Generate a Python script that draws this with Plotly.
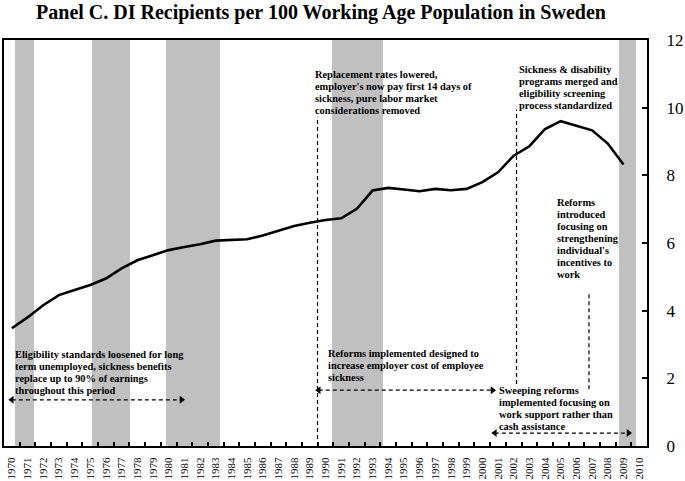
import plotly.graph_objects as go

# ---------------- data ----------------
years = list(range(1970, 2010))
di_rate = [3.48, 3.80, 4.16, 4.46, 4.61, 4.76, 4.95, 5.25, 5.49, 5.63,
           5.79, 5.88, 5.96, 6.07, 6.09, 6.11, 6.22, 6.35, 6.50, 6.60,
           6.68, 6.73, 7.01, 7.55, 7.63, 7.58, 7.53, 7.60, 7.56, 7.60,
           7.80, 8.09, 8.58, 8.86, 9.37, 9.60, 9.47, 9.33, 8.94, 8.32]

tick_years = list(range(1970, 2011))
tick_labels = [str(y) for y in tick_years]
y_ticks = [0, 2, 4, 6, 8, 10, 12]

rec_start = [1970.17, 1975.09, 1979.81, 1990.43, 2008.73]
rec_end = [1971.41, 1977.56, 1983.27, 1993.66, 2009.78]

event_x = [1989.49, 2002.18, 2006.80]
event_top = [9.73, 9.94, 4.54]
event_bottom = [0.0, 1.83, 1.68]

arrow_start = [1970.00, 1989.57, 2000.80]
arrow_end = [1980.82, 2000.65, 2009.32]
arrow_y = [1.365, 1.65, 0.383]

note_lines = [
    ["Eligibility standards loosened for long",
     "term unemployed, sickness benefits",
     "replace up to 90% of earnings",
     "throughout this period"],
    ["Replacement rates lowered,",
     "employer's now pay first 14 days of",
     "sickness, pure labor market",
     "considerations removed"],
    ["Sickness & disability",
     "programs merged and",
     "eligibility screening",
     "process standardized"],
    ["Reforms",
     "introduced",
     "focusing on",
     "strengthening",
     "individual's",
     "incentives to",
     "work"],
    ["Reforms implemented designed to",
     "increase employer cost of employee",
     "sickness"],
    ["Sweeping reforms",
     "implemented focusing on",
     "work support rather than",
     "cash assistance"],
]
note_x = [1970.08, 1989.20, 2002.24, 2004.63, 1990.06, 2000.92]
note_y = [2.71, 10.99, 11.14, 7.21, 2.73, 1.65]

title = "Panel C. DI Recipients per 100 Working Age Population in Sweden"

# ---------------- figure ----------------
SERIF = "Liberation Serif, Times New Roman, serif"
fig = go.Figure()

# recession bands
fig.add_trace(go.Bar(
    x=[(s + e) / 2 for s, e in zip(rec_start, rec_end)],
    y=[12] * len(rec_start),
    width=[e - s for s, e in zip(rec_start, rec_end)],
    marker=dict(color="#c0c0c0", line=dict(width=0)),
    showlegend=False, hoverinfo="skip",
))

# event vertical dashed lines
for xv, yt, yb in zip(event_x, event_top, event_bottom):
    fig.add_trace(go.Scatter(
        x=[xv, xv], y=[yb, yt], mode="lines", xaxis="x2",
        line=dict(color="black", width=1.2, dash="4px,3px"),
        showlegend=False, hoverinfo="skip",
    ))

# double-headed dashed arrows
for xs, xe, yv in zip(arrow_start, arrow_end, arrow_y):
    fig.add_trace(go.Scatter(
        x=[xs, xe], y=[yv, yv], mode="lines+markers", xaxis="x2",
        line=dict(color="black", width=1.3, dash="4px,3px"),
        marker=dict(symbol=["triangle-left", "triangle-right"], size=7,
                    color="black"),
        showlegend=False, hoverinfo="skip",
    ))

# main series
fig.add_trace(go.Scatter(
    x=years, y=di_rate, mode="lines", xaxis="x2",
    line=dict(color="black", width=2.6),
    showlegend=False, hoverinfo="skip",
))

annotations = []
for lines, xv, yv in zip(note_lines, note_x, note_y):
    for k, txt in enumerate(lines):
        annotations.append(dict(
            x=xv, y=yv, xref="x", yref="y", text="<b>" + txt + "</b>",
            showarrow=False, xanchor="left", yanchor="middle",
            yshift=-12.1 * k,
            font=dict(family=SERIF, size=10.4, color="black"),
        ))

rng = [1969.5, 2010.5]
fig.update_layout(
    width=685, height=481,
    margin=dict(l=2, r=32, t=40, b=34),
    paper_bgcolor="white", plot_bgcolor="white",
    bargap=0,
    title=dict(text="<b>" + title + "</b>", x=0.4686, xref="container",
               xanchor="center", y=1 - 12 / 481, yref="container",
               yanchor="middle",
               font=dict(family=SERIF, size=20, color="black")),
    xaxis=dict(range=rng, tickmode="array", tickvals=tick_years,
               ticktext=tick_labels, tickangle=-90, ticks="",
               ticklabelstandoff=5,
               tickfont=dict(family=SERIF, size=11, color="black"),
               showgrid=False, zeroline=False, showline=True,
               linecolor="black", linewidth=2, mirror=True),
    xaxis2=dict(range=rng, overlaying="x", anchor="y", side="bottom",
                tickmode="array",
                tickvals=[y + 0.5 for y in tick_years[:-1]],
                ticks="inside", ticklen=4, tickwidth=1.5, tickcolor="black",
                showticklabels=False, showgrid=False, zeroline=False,
                showline=False),
    yaxis=dict(range=[0, 12], side="right", tickmode="array",
               tickvals=y_ticks, ticks="inside", ticklen=5, tickwidth=2,
               tickcolor="black", ticklabelstandoff=14,
               tickfont=dict(family=SERIF, size=17, color="black"),
               showgrid=False, zeroline=False, showline=True,
               linecolor="black", linewidth=2, mirror=True),
    annotations=annotations,
)

fig.write_html("out.html",
               config={"displayModeBar": False},
               post_script="document.body.style.margin='0px';")
